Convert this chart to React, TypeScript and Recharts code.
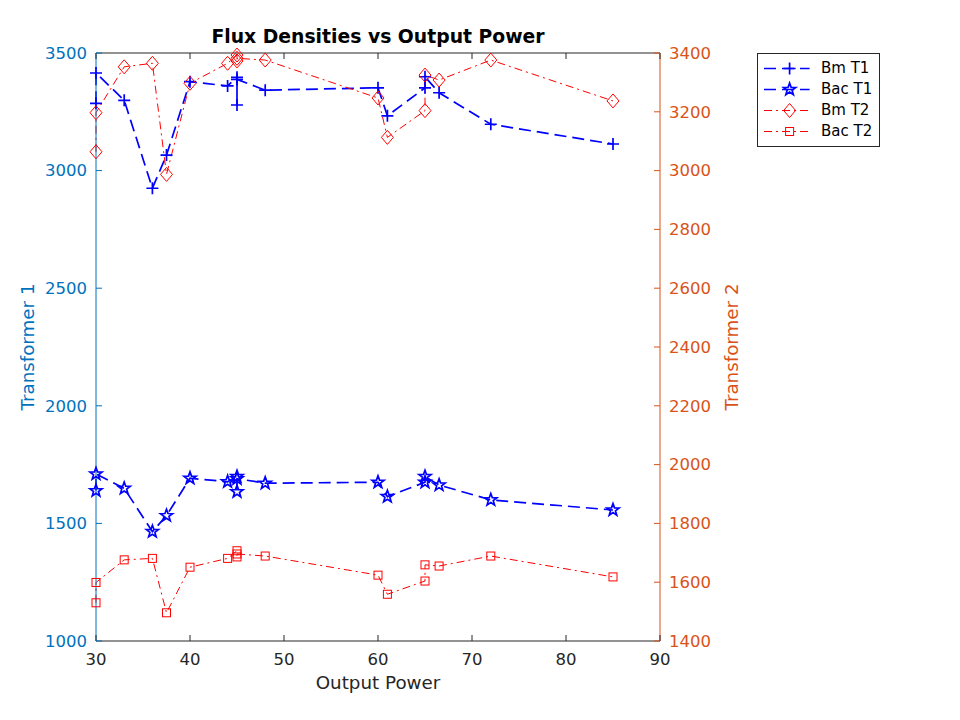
import { LineChart, Line, XAxis, YAxis, Legend } from "recharts";

// values, in plotting order (duplicate x values kept)
const outputPower = [30, 30, 33, 36, 37.5, 40, 44, 45, 45, 45, 48, 60, 61, 65, 65, 66.5, 72, 85];
const bmT1 = [3286, 3415, 3299, 2925, 3066, 3378, 3360, 3397, 3279, 3388, 3342, 3352, 3233, 3352, 3399, 3331, 3197, 3113];
const bacT1 = [1639, 1710, 1649, 1465, 1533, 1692, 1677, 1699, 1635, 1690, 1671, 1675, 1614, 1675, 1699, 1663, 1600, 1557];
const bmT2 = [3064, 3197, 3353, 3365, 2987, 3297, 3365, 3393, 3373, 3382, 3376, 3247, 3113, 3204, 3325, 3308, 3376, 3237];
const bacT2 = [1530, 1599, 1676, 1681, 1496, 1651, 1681, 1707, 1686, 1696, 1689, 1624, 1559, 1604, 1659, 1655, 1689, 1618];

const xTicks = [30, 40, 50, 60, 70, 80, 90];
const leftTicks = [1000, 1500, 2000, 2500, 3000, 3500];
const rightTicks = [1400, 1600, 1800, 2000, 2200, 2400, 2600, 2800, 3000, 3200, 3400];

const chartData = outputPower.map((p, i) => ({
  power: p,
  bmT1: bmT1[i],
  bacT1: bacT1[i],
  bmT2: bmT2[i],
  bacT2: bacT2[i],
}));

const T1 = "#0072BD";
const T2 = "#D95319";
const AXIS = "#262626";
const FONT = "DejaVu Sans";

type Shape = "plus" | "star" | "diamond" | "square";

const series: { key: string; name: string; color: string; dash: string; width: number; shape: Shape; axis: string }[] = [
  { key: "bmT1", name: "Bm T1", color: "#0000FF", dash: "12 6", width: 1.7, shape: "plus", axis: "left" },
  { key: "bacT1", name: "Bac T1", color: "#0000FF", dash: "12 6", width: 1.7, shape: "star", axis: "left" },
  { key: "bmT2", name: "Bm T2", color: "#FF0000", dash: "8 4 2 4", width: 1, shape: "diamond", axis: "right" },
  { key: "bacT2", name: "Bac T2", color: "#FF0000", dash: "8 4 2 4", width: 1, shape: "square", axis: "right" },
];

const marker = (shape: Shape, cx: number, cy: number, color: string, key?: string) => {
  if (shape === "plus") {
    const h = 6;
    return (
      <path key={key} d={`M${cx - h},${cy}H${cx + h}M${cx},${cy - h}V${cy + h}`} stroke={color} strokeWidth={1.7} fill="none" />
    );
  }
  if (shape === "star") {
    const R = 6.4;
    const r = 2.6;
    const pts: string[] = [];
    for (let k = 0; k < 10; k++) {
      const rad = k % 2 === 0 ? R : r;
      const a = -Math.PI / 2 + (k * Math.PI) / 5;
      pts.push(`${cx + rad * Math.cos(a)},${cy + rad * Math.sin(a)}`);
    }
    return <polygon key={key} points={pts.join(" ")} stroke={color} strokeWidth={1.7} fill="none" />;
  }
  if (shape === "diamond") {
    const w = 6;
    const h = 7;
    return (
      <polygon
        key={key}
        points={`${cx},${cy - h} ${cx + w},${cy} ${cx},${cy + h} ${cx - w},${cy}`}
        stroke={color}
        strokeWidth={1}
        fill="none"
      />
    );
  }
  const s = 4;
  return <rect key={key} x={cx - s} y={cy - s} width={2 * s} height={2 * s} stroke={color} strokeWidth={1} fill="none" />;
};

const makeDot = (shape: Shape, color: string) => (props: any) => {
  const { cx, cy, index } = props;
  if (cx == null || cy == null) return <g key={`d-${index}`} />;
  return marker(shape, cx, cy, color, `d-${index}`);
};

// inward ticks, MATLAB style
const BottomTick = (props: any) => {
  const { x, y, payload } = props;
  const axisY = y - 12;
  return (
    <g>
      <line x1={x} x2={x} y1={axisY} y2={axisY - 6} stroke={AXIS} />
      <text x={x} y={y} dy="0.71em" textAnchor="middle" fill={AXIS} fontSize={16.5} fontFamily={FONT}>
        {payload.value}
      </text>
    </g>
  );
};

const TopTick = (props: any) => {
  const { x, y } = props;
  return <line x1={x} x2={x} y1={y} y2={y + 6} stroke={AXIS} />;
};

const LeftTick = (props: any) => {
  const { x, y, payload } = props;
  const axisX = x + 9;
  return (
    <g>
      <line x1={axisX} x2={axisX + 6} y1={y} y2={y} stroke={T1} />
      <text x={x} y={y} dy="0.355em" textAnchor="end" fill={T1} fontSize={16.5} fontFamily={FONT}>
        {payload.value}
      </text>
    </g>
  );
};

const RightTick = (props: any) => {
  const { x, y, payload } = props;
  const axisX = x - 9;
  return (
    <g>
      <line x1={axisX} x2={axisX - 6} y1={y} y2={y} stroke={T2} />
      <text x={x} y={y} dy="0.355em" textAnchor="start" fill={T2} fontSize={16.5} fontFamily={FONT}>
        {payload.value}
      </text>
    </g>
  );
};

const yLabel = (text: string, color: string, side: "left" | "right") => (props: any) => {
  const vb = props.viewBox;
  const cx = side === "left" ? vb.x + 20 : vb.x + vb.width - 18;
  const cy = vb.y + vb.height / 2;
  return (
    <text
      x={cx}
      y={cy}
      dy="0.355em"
      transform={`rotate(-90 ${cx} ${cy})`}
      textAnchor="middle"
      fill={color}
      fontSize={18.3}
      fontFamily={FONT}
    >
      {text}
    </text>
  );
};

const TitleLabel = (props: any) => {
  const vb = props.viewBox;
  return (
    <text
      x={vb.x + vb.width / 2}
      y={vb.y + vb.height - 9.7}
      textAnchor="middle"
      fill="#000"
      fontSize={18.8}
      fontWeight="bold"
      fontFamily={FONT}
    >
      Flux Densities vs Output Power
    </text>
  );
};

const XLabel = (props: any) => {
  const vb = props.viewBox;
  return (
    <text x={vb.x + vb.width / 2} y={vb.y + 48} textAnchor="middle" fill={AXIS} fontSize={18.3} fontFamily={FONT}>
      Output Power
    </text>
  );
};

const LegendBox = () => (
  <div
    style={{
      border: `1px solid ${AXIS}`,
      background: "#fff",
      width: 121,
      padding: "4px 0",
      fontFamily: FONT,
      fontSize: 15,
      color: "#000",
    }}
  >
    {series.map((s) => (
      <div key={s.key} style={{ display: "flex", alignItems: "center", height: 21 }}>
        <svg width={58} height={21} style={{ display: "block" }}>
          <line x1={6} x2={51.6} y1={10.5} y2={10.5} stroke={s.color} strokeWidth={s.width} strokeDasharray={s.dash} />
          {marker(s.shape, 31.6, 10.5, s.color)}
        </svg>
        <span style={{ marginLeft: 5, lineHeight: "21px" }}>{s.name}</span>
      </div>
    ))}
  </div>
);

export default function App() {
  return (
    <div style={{ width: 944, height: 704, background: "#fff" }}>
      <LineChart
        width={944}
        height={704}
        data={chartData}
        margin={{ top: 44, right: 202, bottom: 11, left: 0 }}
        style={{ fontFamily: FONT }}
      >
        <XAxis
          xAxisId="bottom"
          dataKey="power"
          type="number"
          domain={[30, 90]}
          ticks={xTicks}
          interval={0}
          height={60}
          tickSize={0}
          tickMargin={12}
          tickLine={false}
          tick={<BottomTick />}
          axisLine={{ stroke: AXIS }}
          label={<XLabel />}
        />
        <XAxis
          xAxisId="top"
          orientation="top"
          dataKey="power"
          type="number"
          domain={[30, 90]}
          ticks={xTicks}
          interval={0}
          height={1}
          tickSize={0}
          tickMargin={0}
          tickLine={false}
          tick={<TopTick />}
          axisLine={{ stroke: AXIS }}
          label={<TitleLabel />}
        />
        <YAxis
          yAxisId="left"
          orientation="left"
          type="number"
          domain={[1000, 3500]}
          ticks={leftTicks}
          interval={0}
          width={88}
          tickSize={0}
          tickMargin={9}
          tickLine={false}
          tick={<LeftTick />}
          axisLine={{ stroke: T1 }}
          label={yLabel("Transformer 1", T1, "left")}
        />
        <YAxis
          yAxisId="right"
          orientation="right"
          type="number"
          domain={[1400, 3400]}
          ticks={rightTicks}
          interval={0}
          width={90}
          tickSize={0}
          tickMargin={9}
          tickLine={false}
          tick={<RightTick />}
          axisLine={{ stroke: T2 }}
          label={yLabel("Transformer 2", T2, "right")}
        />
        {series.map((s) => (
          <Line
            key={s.key}
            xAxisId="bottom"
            yAxisId={s.axis}
            dataKey={s.key}
            name={s.name}
            stroke={s.color}
            strokeWidth={s.width}
            strokeDasharray={s.dash}
            dot={makeDot(s.shape, s.color)}
            activeDot={false}
            isAnimationActive={false}
            type="linear"
          />
        ))}
        <Legend
          layout="vertical"
          align="center"
          verticalAlign="middle"
          content={<LegendBox />}
          wrapperStyle={{ position: "absolute", left: 749, top: 45, width: "auto", height: "auto" }}
        />
      </LineChart>
    </div>
  );
}
